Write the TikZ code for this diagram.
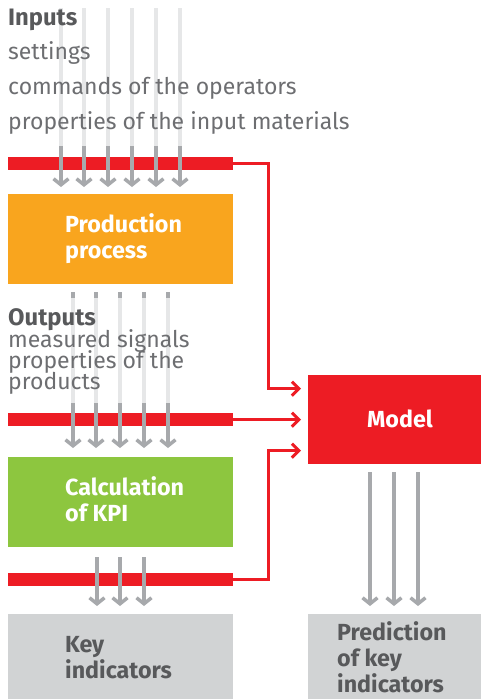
\documentclass[tikz,border=0pt]{standalone}
\usepackage{fontspec}
\setmainfont{Fira Sans}
\usetikzlibrary{arrows.meta,calc}
\definecolor{kred}{HTML}{ED1C24}
\definecolor{korange}{HTML}{F9A51E}
\definecolor{kgreen}{HTML}{8DC63F}
\definecolor{kbox}{HTML}{D1D3D4}
\definecolor{kdark}{HTML}{58595B}
\definecolor{ktext}{HTML}{6D6E71}
\definecolor{karrow}{HTML}{A7A9AC}
\definecolor{klight}{HTML}{E6E7E8}
\tikzset{
  box/.style={rectangle, inner sep=0pt, anchor=north west, minimum width=225pt, minimum height=90pt},
  bar/.style={rectangle, inner sep=0pt, anchor=north west, fill=kred, minimum width=225pt, minimum height=13pt},
  boxlabel/.style={anchor=base west, inner sep=0pt, font=\fontsize{23.3}{23.3}\selectfont\bfseries},
  grayarrow/.style={draw=karrow, line width=3.5pt, -{Straight Barb[length=6pt,width=15pt]}},
  grayline/.style={draw=karrow, line width=3.5pt},
  lightline/.style={draw=klight, line width=3.5pt},
  redarrow/.style={draw=kred, line width=3pt, -{Straight Barb[length=7pt,width=14pt]}, shorten >=7pt},
  heading/.style={anchor=base west, inner sep=0pt, text=kdark, font=\fontsize{23.8}{23.8}\selectfont\bfseries},
  plain/.style={anchor=base west, inner sep=0pt, text=ktext, font=\fontsize{23}{23}\selectfont},
}
\begin{document}
\begin{tikzpicture}[x=1pt, y=-1pt]
\useasboundingbox (0,0) rectangle (481,699);

% faint feed lines behind the input and output texts
\foreach \x in {61,84,108,132,156,180} \draw[lightline] (\x,8) -- (\x,146);
\foreach \x in {73,96,120,144,168} {
  \draw[grayline] (\x,292) -- (\x,298);
  \draw[lightline] (\x,298) -- (\x,403);
}

% input texts
\node[heading] (inputs) at (8,25) {Inputs};
\node[plain] (in1) at (8,59) {settings};
\node[plain] (in2) at (8,94) {commands of the operators};
\node[plain] (in3) at (8,129) {properties of the input materials};

% output texts
\node[heading] (outputs) at (8,325) {Outputs};
\node[plain] (out1) at (8,347) {measured signals};
\node[plain] (out2) at (8,368) {properties of the};
\node[plain] (out3) at (8,389) {products};

% process blocks
\node[box, fill=korange] (prod) at (8,194) {};
\node[box, fill=kgreen] (kpi) at (8,457) {};
\node[box, fill=kbox, minimum height=85pt] (key) at (8,614) {};
\node[box, fill=kred, minimum width=173pt, minimum height=89pt] (model) at (308,375) {};
\node[box, fill=kbox, minimum width=173pt, minimum height=85pt] (pred) at (308,614) {};

\node[boxlabel, text=white] (prod1) at (65,232) {Production};
\node[boxlabel, text=white] (prod2) at (65,258) {process};
\node[boxlabel, text=white] (kpi1) at (65,495) {Calculation};
\node[boxlabel, text=white] (kpi2) at (65,521) {of KPI};
\node[boxlabel, text=kdark] (key1) at (65,652) {Key};
\node[boxlabel, text=kdark] (key2) at (65,678) {indicators};
\node[boxlabel, text=kdark] (pred1) at (337,640) {Prediction};
\node[boxlabel, text=kdark] (pred2) at (337,666) {of key};
\node[boxlabel, text=kdark] (pred3) at (337,692) {indicators};
\node[boxlabel, anchor=base, text=white] (modeltxt) at (400,427) {Model};

% red signal bars
\node[bar] (bar1) at (8,157) {};
\node[bar] (bar2) at (8,413) {};
\node[bar] (bar3) at (8,573) {};

% flows into and out of the blocks
\foreach \x in {61,84,108,132,156,180} \draw[grayarrow] (\x,146) -- (\x,187);
\foreach \x in {73,96,120,144,168} \draw[grayarrow] (\x,403) -- (\x,448);
\foreach \x in {97,120,144} \draw[grayarrow] (\x,557) -- (\x,606);
\foreach \x in {370,394,418} \draw[grayarrow] (\x,472) -- (\x,606);

% signals fed to the model
\draw[redarrow] (bar1.east) -- ++(35,0) |- ([yshift=31pt]model.west);
\draw[redarrow] (bar2.east) -- (model.west);
\draw[redarrow] (bar3.east) -- ++(35,0) |- ([yshift=-31pt]model.west);
\end{tikzpicture}
\end{document}
